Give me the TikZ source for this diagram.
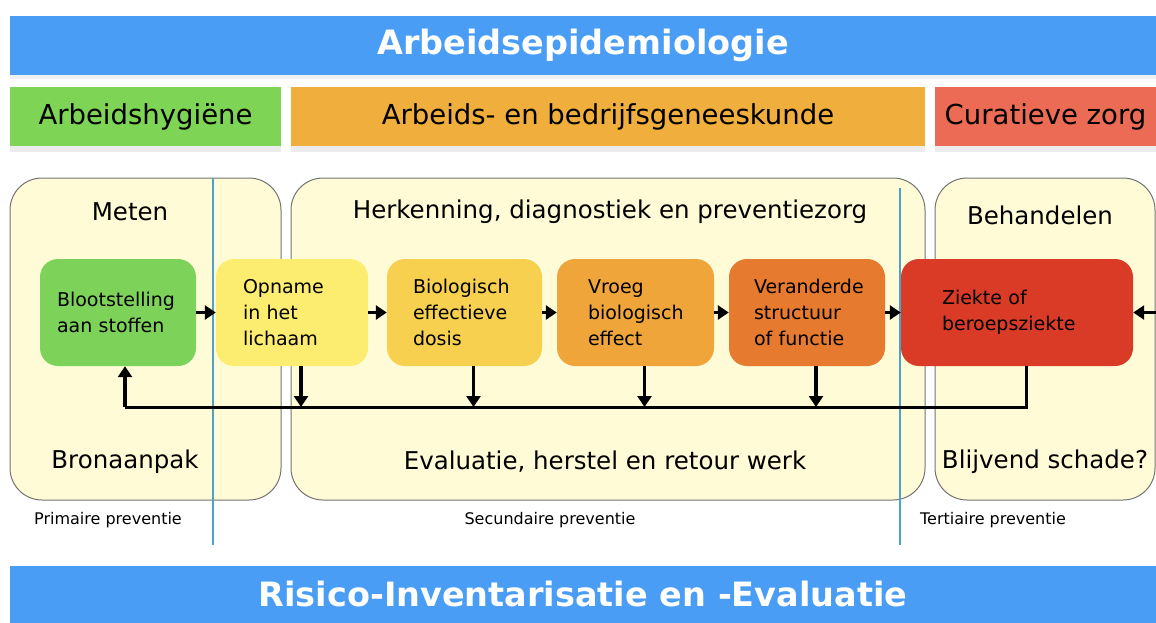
\documentclass[tikz,border=0pt]{standalone}
\usepackage{fontspec}
\setmainfont{DejaVu Sans}
\usetikzlibrary{arrows.meta}
\usetikzlibrary{shadows}
\usetikzlibrary{positioning}

\definecolor{barblue}{RGB}{74,157,245}
\definecolor{hyggreen}{RGB}{126,212,84}
\definecolor{bedrorange}{RGB}{240,174,60}
\definecolor{cursalmon}{RGB}{236,107,85}
\definecolor{paleyellow}{RGB}{255,251,214}
\definecolor{splitblue}{RGB}{75,163,199}
\definecolor{pgreen}{RGB}{125,211,90}
\definecolor{pyellow}{RGB}{252,236,112}
\definecolor{pgold}{RGB}{246,208,78}
\definecolor{porange}{RGB}{239,165,58}
\definecolor{pdark}{RGB}{230,123,47}
\definecolor{pred}{RGB}{217,59,39}

\tikzset{
  bar/.style={fill=barblue, text=white, inner sep=0pt, minimum height=59pt,
    font=\fontsize{33.5}{38}\selectfont\bfseries},
  head/.style={inner sep=0pt, minimum height=59pt, font=\fontsize{27.5}{30}\selectfont,
    drop shadow={shadow xshift=0pt, shadow yshift=-6pt, opacity=0.15}},
  area/.style={draw=black!55, fill=paleyellow, line width=1pt, rounded corners=32pt},
  split/.style={draw=splitblue, line width=2pt},
  proc/.style 2 args={rounded corners=18pt, minimum height=107pt, inner ysep=0pt,
    text width=#1pt, inner xsep=#2pt, align=left, font=\fontsize{19}{26}\selectfont},
  flow/.style={-{Triangle[length=11pt,width=14pt]}, line width=3.5pt},
  back/.style={line width=3pt},
  lbl/.style={font=\fontsize{24.5}{28}\selectfont},
  small/.style={font=\fontsize{16}{18}\selectfont}
}

\begin{document}
\begin{tikzpicture}[x=1pt,y=-1pt]
\useasboundingbox (0,0) rectangle (1156,622);

% bars on top
\node[bar, minimum width=1146pt, drop shadow={shadow xshift=0pt, shadow yshift=-4pt, opacity=0.12}] (title) at (583,45) {Arbeidsepidemiologie};
\node[head, fill=hyggreen, minimum width=271pt] (hyg) at (145.5,116.5) {Arbeidshygi\"ene};
\node[head, fill=bedrorange, minimum width=634pt] (bedr) at (608,116.5) {Arbeids- en bedrijfsgeneeskunde};
\node[head, fill=cursalmon, minimum width=221pt] (cur) at (1045.5,116.5) {Curatieve zorg};

% areas
\draw[area] (10,178) rectangle (281,500);
\draw[area] (291,178) rectangle (925,500);
\draw[area] (935,178) rectangle (1155,500);

\draw[split] (213,178) -- (213,545);
\draw[split] (900,188) -- (900,545);

% chain
\node[proc={122}{17}, fill=pgreen] (expo) at (118,312.5) {Blootstelling\\aan stoffen};
\node[proc={98}{27}, fill=pyellow] (opname) at (292,312.5) {Opname\\in het\\lichaam};
\node[proc={103}{26}, fill=pgold] (dosis) at (464.5,312.5) {Biologisch\\effectieve\\dosis};
\node[proc={95}{31}, fill=porange] (vroeg) at (635.5,312.5) {Vroeg\\biologisch\\effect};
\node[proc={106}{25}, fill=pdark] (verand) at (807,312.5) {Veranderde\\structuur\\of functie};
\node[proc={150}{41}, fill=pred] (ziekte) at (1017,312.5) {Ziekte of\\beroepsziekte};

\draw[flow] (expo) -- (opname);
\draw[flow] (opname) -- (dosis);
\draw[flow] (dosis) -- (vroeg);
\draw[flow] (vroeg) -- (verand);
\draw[flow] (verand) -- (ziekte);
\coordinate (rin) at (1160,312.5);
\draw[flow] (rin) -- (ziekte.east);

% feedback
\coordinate (fb) at (0,407);
\draw[back] ([xshift=9pt]ziekte.south) |- ([xshift=7pt]expo.south |- fb);
\draw[flow] ([xshift=7pt]expo.south |- fb) -- ([xshift=7pt]expo.south);
\foreach \n in {opname,dosis,vroeg,verand}
  \draw[flow] ([xshift=9pt]\n.south) -- ([xshift=9pt]\n.south |- fb);

% labels
\node[lbl] (meten) at (130,212) {Meten};
\node[lbl] (herk) at (610,212) {Herkenning, diagnostiek en preventiezorg};
\node[lbl] (behand) at (1040,215) {Behandelen};
\node[lbl] (bron) at (125,462) {Bronaanpak};
\node[lbl] (evalu) at (605,462) {Evaluatie, herstel en retour werk};
\node[lbl] (blijv) at (1045,462) {Blijvend schade?};

\node[small] (prim) at (108,520) {Primaire preventie};
\node[small] (secu) at (550,520) {Secundaire preventie};
\node[small] (tert) at (993,520) {Tertiaire preventie};

\node[bar, minimum width=1146pt, minimum height=57pt] (rie) at (583,594) {Risico-Inventarisatie en -Evaluatie};
\end{tikzpicture}
\end{document}
